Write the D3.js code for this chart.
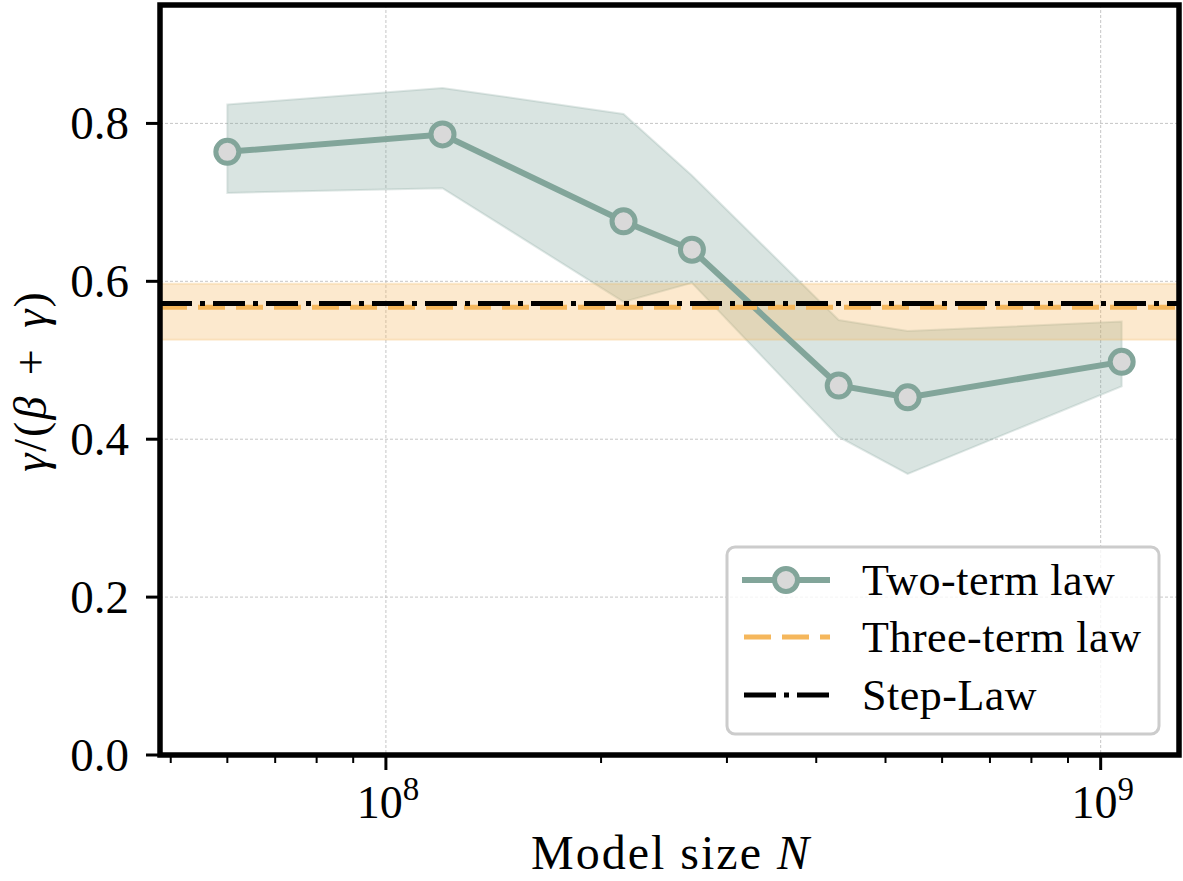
<!DOCTYPE html>
<html>
<head>
<meta charset="utf-8">
<script src="https://cdn.jsdelivr.net/npm/d3@7"></script>
<style>
  html, body { margin: 0; padding: 0; background: #fff; }
  svg { display: block; font-family: "Liberation Serif", "DejaVu Serif", serif; }
</style>
</head>
<body>
<div id="chart"></div>
<script>
// model sizes (x) and the fitted ratio gamma/(beta+gamma)
const modelSizes = [6.0e7, 1.2e8, 2.15e8, 2.68e8, 4.3e8, 5.37e8, 1.07e9];
const twoTerm = [0.764, 0.786, 0.676, 0.640, 0.468, 0.453, 0.498];
const twoTermUpper = [0.824, 0.845, 0.812, 0.734, 0.551, 0.537, 0.549];
const twoTermLower = [0.712, 0.718, 0.574, 0.598, 0.403, 0.356, 0.467];

const threeTerm = 0.567;
const threeTermBand = [0.526, 0.597];
const stepLaw = 0.572;

const yTicks = [0.0, 0.2, 0.4, 0.6, 0.8];
const xMajorTicks = [1e8, 1e9];
const xMinorTicks = [5e7, 6e7, 7e7, 8e7, 9e7, 2e8, 3e8, 4e8, 5e8, 6e8, 7e8, 8e8, 9e8];
const legendLabels = [`Two-term law`, `Three-term law`, `Step-Law`];

const green = `#82a59a`;
const orange = `#f5b75c`;

const width = 1183;
const height = 881;
const plot = { left: 160, right: 1179, top: 5, bottom: 755 };

const svg = d3.select(`#chart`).append(`svg`)
  .attr(`width`, width)
  .attr(`height`, height);

const x = d3.scaleLog()
  .domain([4.83e7, 1.287e9])
  .range([plot.left, plot.right]);
const y = d3.scaleLinear()
  .domain([0, 0.95])
  .range([plot.bottom, plot.top]);

// grid
const grid = svg.append(`g`)
  .attr(`stroke`, `#b8b8b8`)
  .attr(`stroke-width`, 0.8)
  .attr(`stroke-dasharray`, `3,2`);
grid.selectAll(`.gy`).data(yTicks.slice(1)).enter().append(`line`)
  .attr(`x1`, plot.left).attr(`x2`, plot.right)
  .attr(`y1`, (d) => y(d)).attr(`y2`, (d) => y(d));
grid.selectAll(`.gx`).data(xMajorTicks).enter().append(`line`)
  .attr(`x1`, (d) => x(d)).attr(`x2`, (d) => x(d))
  .attr(`y1`, plot.top).attr(`y2`, plot.bottom);

svg.append(`clipPath`).attr(`id`, `plot-clip`)
  .append(`rect`)
  .attr(`x`, plot.left).attr(`y`, plot.top)
  .attr(`width`, plot.right - plot.left).attr(`height`, plot.bottom - plot.top);

const g = svg.append(`g`).attr(`clip-path`, `url(#plot-clip)`);

// two-term uncertainty band
const area = d3.area()
  .x((d, i) => x(modelSizes[i]))
  .y0((d, i) => y(twoTermLower[i]))
  .y1((d, i) => y(twoTermUpper[i]));
g.append(`path`)
  .datum(modelSizes)
  .attr(`d`, area)
  .attr(`fill`, green)
  .attr(`fill-opacity`, 0.3)
  .attr(`stroke`, green)
  .attr(`stroke-opacity`, 0.25)
  .attr(`stroke-width`, 2);

// three-term band
g.append(`rect`)
  .attr(`x`, plot.left)
  .attr(`width`, plot.right - plot.left)
  .attr(`y`, y(threeTermBand[1]))
  .attr(`height`, y(threeTermBand[0]) - y(threeTermBand[1]))
  .attr(`fill`, orange)
  .attr(`fill-opacity`, 0.3)
  .attr(`stroke`, orange)
  .attr(`stroke-opacity`, 0.25)
  .attr(`stroke-width`, 2);

// two-term line
const line = d3.line()
  .x((d, i) => x(modelSizes[i]))
  .y((d) => y(d));
g.append(`path`)
  .datum(twoTerm)
  .attr(`d`, line)
  .attr(`fill`, `none`)
  .attr(`stroke`, green)
  .attr(`stroke-width`, 6);

// horizontal reference lines
g.append(`line`)
  .attr(`x1`, plot.left).attr(`x2`, plot.right)
  .attr(`y1`, y(threeTerm)).attr(`y2`, y(threeTerm))
  .attr(`stroke`, orange)
  .attr(`stroke-width`, 5)
  .attr(`stroke-dasharray`, `27,11`);
g.append(`line`)
  .attr(`x1`, plot.left).attr(`x2`, plot.right)
  .attr(`y1`, y(stepLaw)).attr(`y2`, y(stepLaw))
  .attr(`stroke`, `#000`)
  .attr(`stroke-width`, 5)
  .attr(`stroke-dasharray`, `32,8,5,8`);

svg.append(`g`).selectAll(`circle`)
  .data(twoTerm).enter().append(`circle`)
  .attr(`cx`, (d, i) => x(modelSizes[i]))
  .attr(`cy`, (d) => y(d))
  .attr(`r`, 11.5)
  .attr(`fill`, `#d9d9d9`)
  .attr(`stroke`, green)
  .attr(`stroke-width`, 5);

// axes frame
svg.append(`rect`)
  .attr(`x`, plot.left).attr(`y`, plot.top)
  .attr(`width`, plot.right - plot.left).attr(`height`, plot.bottom - plot.top)
  .attr(`fill`, `none`)
  .attr(`stroke`, `#000`)
  .attr(`stroke-width`, 5.5);

// y ticks
const yAxis = svg.append(`g`);
yAxis.selectAll(`line`).data(yTicks).enter().append(`line`)
  .attr(`x1`, plot.left - 14).attr(`x2`, plot.left)
  .attr(`y1`, (d) => y(d)).attr(`y2`, (d) => y(d))
  .attr(`stroke`, `#000`).attr(`stroke-width`, 3);
yAxis.selectAll(`text`).data(yTicks).enter().append(`text`)
  .attr(`x`, plot.left - 31)
  .attr(`y`, (d) => y(d))
  .attr(`dy`, `0.34em`)
  .attr(`text-anchor`, `end`)
  .attr(`font-size`, 47)
  .text((d) => d3.format(`.1f`)(d));

// x ticks
const xAxis = svg.append(`g`);
xAxis.selectAll(`.minor`).data(xMinorTicks).enter().append(`line`)
  .attr(`x1`, (d) => x(d)).attr(`x2`, (d) => x(d))
  .attr(`y1`, plot.bottom).attr(`y2`, plot.bottom + 8)
  .attr(`stroke`, `#000`).attr(`stroke-width`, 2);
xAxis.selectAll(`.major`).data(xMajorTicks).enter().append(`line`)
  .attr(`x1`, (d) => x(d)).attr(`x2`, (d) => x(d))
  .attr(`y1`, plot.bottom).attr(`y2`, plot.bottom + 15)
  .attr(`stroke`, `#000`).attr(`stroke-width`, 3);
const xLabels = xAxis.selectAll(`text`).data(xMajorTicks).enter().append(`text`)
  .attr(`x`, (d) => x(d) + 2)
  .attr(`y`, 818)
  .attr(`text-anchor`, `middle`)
  .attr(`font-size`, 46);
xLabels.append(`tspan`).text(`10`);
xLabels.append(`tspan`)
  .attr(`dy`, -18)
  .attr(`font-size`, 33)
  .text((d) => Math.round(Math.log10(d)));

// axis titles
const xTitle = svg.append(`text`)
  .attr(`x`, 671)
  .attr(`y`, 869)
  .attr(`text-anchor`, `middle`)
  .attr(`font-size`, 48)
  .attr(`letter-spacing`, 2);
xTitle.append(`tspan`).text(`Model size `);
xTitle.append(`tspan`).attr(`font-style`, `italic`).text(`N`);

const yTitle = svg.append(`text`)
  .attr(`transform`, `translate(46,381) rotate(-90)`)
  .attr(`text-anchor`, `middle`)
  .attr(`font-size`, 46)
  .attr(`letter-spacing`, 2);
yTitle.append(`tspan`).attr(`font-style`, `italic`).text(`γ`);
yTitle.append(`tspan`).text(`/(`);
yTitle.append(`tspan`).attr(`font-style`, `italic`).text(`β`);
yTitle.append(`tspan`).attr(`dx`, 6).text(` + `);
yTitle.append(`tspan`).attr(`dx`, 6).attr(`font-style`, `italic`).text(`γ`);
yTitle.append(`tspan`).text(`)`);

// legend
const legend = svg.append(`g`);
legend.append(`rect`)
  .attr(`x`, 727).attr(`y`, 547)
  .attr(`width`, 432).attr(`height`, 187)
  .attr(`rx`, 8)
  .attr(`fill`, `#fff`).attr(`fill-opacity`, 0.8)
  .attr(`stroke`, `#cccccc`).attr(`stroke-width`, 3);

const rowY = [580, 637, 695];
const handleX = [742, 830];

legend.append(`line`)
  .attr(`x1`, handleX[0]).attr(`x2`, handleX[1])
  .attr(`y1`, rowY[0]).attr(`y2`, rowY[0])
  .attr(`stroke`, green).attr(`stroke-width`, 6);
legend.append(`circle`)
  .attr(`cx`, (handleX[0] + handleX[1]) / 2).attr(`cy`, rowY[0])
  .attr(`r`, 11.5)
  .attr(`fill`, `#d9d9d9`).attr(`stroke`, green).attr(`stroke-width`, 5);
legend.append(`line`)
  .attr(`x1`, handleX[0] + 2).attr(`x2`, handleX[1])
  .attr(`y1`, rowY[1]).attr(`y2`, rowY[1])
  .attr(`stroke`, orange).attr(`stroke-width`, 5)
  .attr(`stroke-dasharray`, `27,11`);
legend.append(`line`)
  .attr(`x1`, handleX[0] + 2).attr(`x2`, handleX[1])
  .attr(`y1`, rowY[2]).attr(`y2`, rowY[2])
  .attr(`stroke`, `#000`).attr(`stroke-width`, 5)
  .attr(`stroke-dasharray`, `32,8,5,8`);

legend.selectAll(`text`).data(legendLabels).enter().append(`text`)
  .attr(`x`, 862)
  .attr(`y`, (d, i) => rowY[i])
  .attr(`dy`, `0.35em`)
  .attr(`font-size`, 44)
  .attr(`letter-spacing`, 0.5)
  .text((d) => d);
</script>
</body>
</html>
